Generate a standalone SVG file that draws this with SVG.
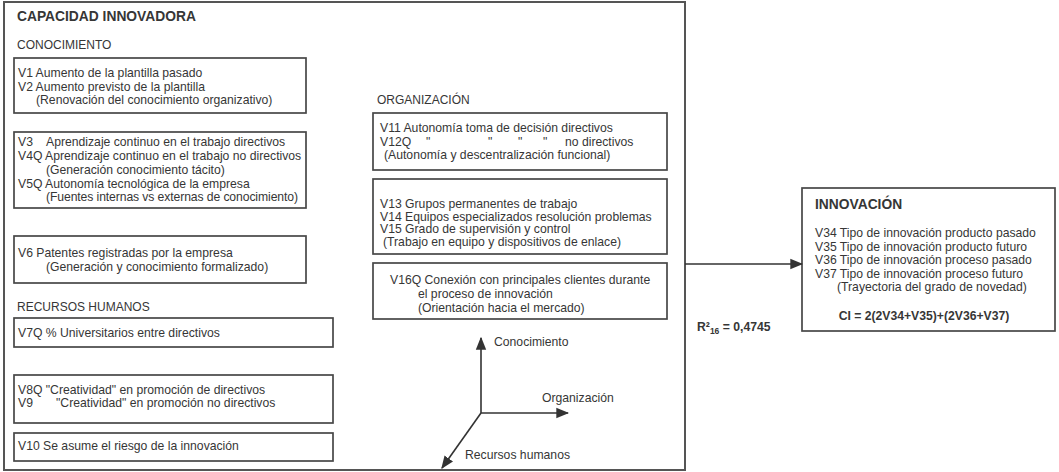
<svg xmlns="http://www.w3.org/2000/svg" width="1059" height="472" viewBox="0 0 1059 472">
  <defs>
    <style>
      .box { fill: none; stroke: #474747; stroke-width: 1.7; }
      .frame { fill: none; stroke: #555; stroke-width: 2; }
      .t { font-family: "Liberation Sans", Arial, sans-serif; font-size: 12.2px; fill: #363636; }
      .h { font-family: "Liberation Sans", Arial, sans-serif; font-size: 12px; fill: #363636; }
      .b { font-family: "Liberation Sans", Arial, sans-serif; font-size: 13.8px; font-weight: bold; fill: #363636; }
      .line { fill: none; stroke: #333; stroke-width: 1.6; }
    </style>
    <marker id="arrowL" viewBox="0 0 10 10" refX="9" refY="5" markerWidth="13" markerHeight="13" markerUnits="userSpaceOnUse" orient="auto">
      <path d="M0,1 L10,5 L0,9 z" fill="#333"/>
    </marker>
  </defs>

  <!-- Capacidad innovadora frame -->
  <g id="capacidad">
    <rect class="frame" x="4" y="2" width="681" height="468"/>
    <text class="b" x="17" y="21">CAPACIDAD INNOVADORA</text>
    <text class="h" x="17" y="49">CONOCIMIENTO</text>
    <text class="h" x="17" y="311">RECURSOS HUMANOS</text>
    <text class="h" x="377" y="104">ORGANIZACIÓN</text>
  </g>

  <!-- Conocimiento -->
  <g id="v1-v2">
    <rect class="box" x="14" y="58" width="292" height="55"/>
    <text class="t" x="18" y="77">V1 Aumento de la plantilla pasado</text>
    <text class="t" x="18" y="90.5">V2 Aumento previsto de la  plantilla</text>
    <text class="t" x="36" y="104">(Renovación del conocimiento organizativo)</text>
  </g>

  <g id="v3-v5">
    <rect class="box" x="14" y="132" width="292" height="76"/>
    <text class="t" x="18" y="146">V3</text>
    <text class="t" x="46" y="146">Aprendizaje continuo en el trabajo directivos</text>
    <text class="t" x="18" y="160">V4Q Aprendizaje continuo en el trabajo no directivos</text>
    <text class="t" x="46" y="174">(Generación conocimiento tácito)</text>
    <text class="t" x="18" y="187.5">V5Q Autonomía tecnológica de la empresa</text>
    <text class="t" x="46" y="201" textLength="252">(Fuentes internas vs externas de conocimiento)</text>
  </g>

  <g id="v6">
    <rect class="box" x="14" y="236" width="292" height="47"/>
    <text class="t" x="18" y="257">V6 Patentes registradas por la empresa</text>
    <text class="t" x="46" y="271">(Generación y conocimiento formalizado)</text>
  </g>

  <!-- Recursos humanos -->
  <g id="v7">
    <rect class="box" x="14" y="318" width="319" height="29"/>
    <text class="t" x="18" y="337">V7Q % Universitarios entre directivos</text>
  </g>

  <g id="v8-v9">
    <rect class="box" x="14" y="375" width="319" height="48"/>
    <text class="t" x="18" y="394">V8Q "Creatividad" en promoción de directivos</text>
    <text class="t" x="18" y="407">V9</text>
    <text class="t" x="56" y="407">"Creatividad" en promoción no directivos</text>
  </g>

  <g id="v10">
    <rect class="box" x="14" y="433" width="319" height="28"/>
    <text class="t" x="18" y="450">V10 Se asume el riesgo de la innovación</text>
  </g>

  <!-- Organización -->
  <g id="v11-v12">
    <rect class="box" x="373" y="113" width="294" height="57"/>
    <text class="t" x="380" y="132">V11 Autonomía toma de decisión directivos</text>
    <text class="t" x="380" y="145.5">V12Q</text>
    <text class="t" x="426" y="145.5">"</text>
    <text class="t" x="488" y="145.5">"</text>
    <text class="t" x="518" y="145.5">"</text>
    <text class="t" x="543" y="145.5">"</text>
    <text class="t" x="565" y="145.5">no directivos</text>
    <text class="t" x="384" y="159">(Autonomía y descentralización funcional)</text>
  </g>

  <g id="v13-v15">
    <rect class="box" x="373" y="179" width="294" height="75"/>
    <text class="t" x="380" y="208">V13 Grupos permanentes de trabajo</text>
    <text class="t" x="380" y="221">V14 Equipos especializados resolución problemas</text>
    <text class="t" x="380" y="233">V15 Grado de supervisión y control</text>
    <text class="t" x="383" y="245.5">(Trabajo en equipo y dispositivos de enlace)</text>
  </g>

  <g id="v16">
    <rect class="box" x="373" y="263" width="294" height="56"/>
    <text class="t" x="390" y="284">V16Q Conexión con principales clientes durante</text>
    <text class="t" x="418" y="298">el proceso de innovación</text>
    <text class="t" x="418" y="312">(Orientación hacia el mercado)</text>
  </g>

  <!-- Dimension axes -->
  <g id="axes">
    <line class="line" x1="481" y1="413" x2="481" y2="338" marker-end="url(#arrowL)"/>
    <line class="line" x1="481" y1="413" x2="568" y2="413" marker-end="url(#arrowL)"/>
    <line class="line" x1="481" y1="413" x2="442" y2="468" marker-end="url(#arrowL)"/>
    <text class="t" x="494" y="346">Conocimiento</text>
    <text class="t" x="542" y="402">Organización</text>
    <text class="t" x="465" y="459">Recursos humanos</text>
  </g>

  <!-- Innovación -->
  <g id="innovacion">
    <rect class="box" x="802" y="188" width="253" height="143"/>
    <text class="b" x="815" y="209">INNOVACIÓN</text>
    <text class="t" x="815" y="237">V34 Tipo de innovación producto pasado</text>
    <text class="t" x="815" y="250.5">V35 Tipo de innovación producto futuro</text>
    <text class="t" x="815" y="264">V36 Tipo de innovación proceso pasado</text>
    <text class="t" x="815" y="277.5">V37 Tipo de innovación proceso futuro</text>
    <text class="t" x="837" y="291">(Trayectoria del grado de novedad)</text>
    <text class="t" x="924" y="320" text-anchor="middle" font-weight="bold" font-size="12.4">CI = 2(2V34+V35)+(2V36+V37)</text>
  </g>

  <!-- Connectors -->
  <g id="connectors">
    <line class="line" x1="685" y1="264" x2="802" y2="264" marker-end="url(#arrowL)"/>
    <text class="t" x="697" y="331" font-weight="bold" font-size="14.5">R²<tspan font-size="8.5" dy="3">16</tspan><tspan dy="-3"> = 0,4745</tspan></text>
  </g>
</svg>
